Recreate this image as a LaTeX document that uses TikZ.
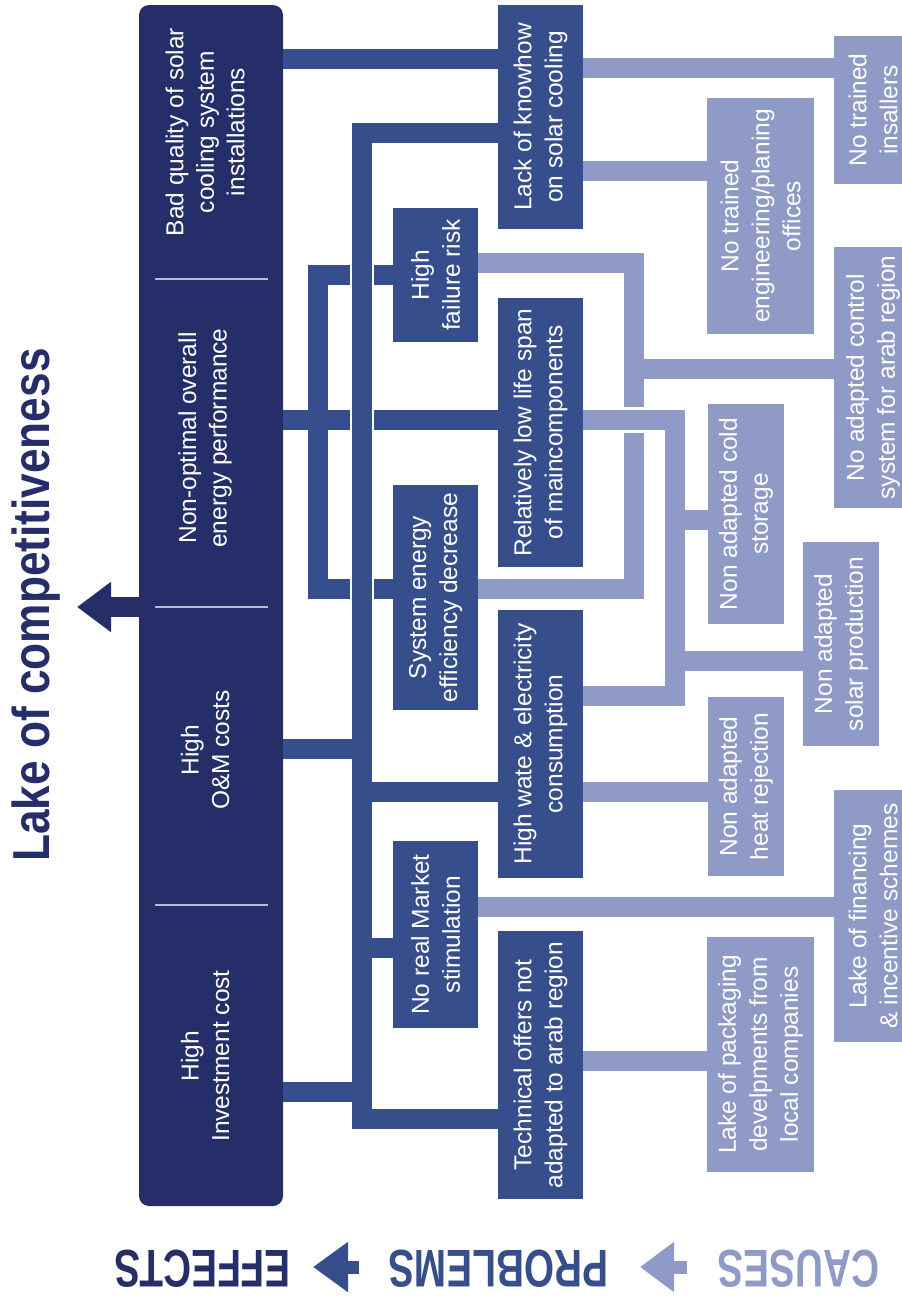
\documentclass[tikz,border=0pt]{standalone}
\usepackage{fontspec}
\setmainfont{Liberation Sans}
\newfontfamily\titlefont[FakeStretch=0.85]{Liberation Sans}
\newfontfamily\legendfont[FakeStretch=0.73]{Liberation Sans}
\usetikzlibrary{arrows.meta}

\definecolor{effblue}{HTML}{252E68}
\definecolor{probblue}{HTML}{364E8C}
\definecolor{causeblue}{HTML}{8F9BC6}
\definecolor{sepgray}{HTML}{B9BDD2}

\tikzset{
  effbox/.style={fill=effblue, rounded corners=10pt, inner sep=0},
  efftext/.style={text=white, rotate=90, align=center, inner sep=0, font=\fontsize{24.5}{30.5}\selectfont},
  probbox/.style={fill=probblue, text=white, rotate=90, align=center, inner sep=0, font=\fontsize{24.5}{31}\selectfont},
  causebox/.style={fill=causeblue, text=white, rotate=90, align=center, inner sep=0, font=\fontsize{24.5}{31}\selectfont},
  probline/.style={draw=probblue, line width=20pt},
  causeline/.style={draw=causeblue, line width=20pt},
  gapline/.style={draw=white, line width=24pt},
  legend/.style={rotate=180, anchor=base, inner sep=0, font=\fontsize{53}{53}\legendfont\bfseries},
}

\begin{document}
\begin{tikzpicture}[x=1pt, y=-1pt]
      \useasboundingbox (0,0) rectangle (902,1296);

      % effects
      \node [effbox, minimum width=144pt, minimum height=1201pt] (effects) at (211,605.5) {};
      \node [efftext] (eBad) at (205,132) {Bad quality of solar\\cooling system\\installations};
      \node [efftext] (eNon) at (205,438) {Non-optimal overall\\energy performance};
      \node [efftext] (eOM) at (205,750) {High\\O\&M costs};
      \node [efftext] (eInv) at (205,1056) {High\\Investment cost};
      \draw [sepgray, line width=1.2pt] (155,279) -- (268,279);
      \draw [sepgray, line width=1.2pt] (155,607) -- (268,607);
      \draw [sepgray, line width=1.2pt] (155,905) -- (268,905);

      \node [rotate=90, anchor=base, inner sep=0, text=effblue, font=\fontsize{52}{52}\titlefont\bfseries] (title) at (49,605) {Lake of competitiveness};
      \coordinate (arrowtip) at (77,607);
      \draw [effblue, line width=20pt, -{Triangle[length=34pt, width=48pt]}] (effects.west |- 0,607) -- (arrowtip);

      % problems
      \node [probbox, minimum width=224pt, minimum height=85pt] (lack) at (540.5,117) {Lack of knowhow\\on solar cooling};
      \node [probbox, minimum width=134pt, minimum height=85pt] (fail) at (435.5,275) {High\\failure risk};
      \node [probbox, minimum width=269pt, minimum height=85pt] (life) at (540.5,432.5) {Relatively low life span\\of maincomponents};
      \node [probbox, minimum width=225pt, minimum height=85pt] (effic) at (435.5,597.5) {System energy\\efficiency decrease};
      \node [probbox, minimum width=268pt, minimum height=85pt] (water) at (540.5,744) {High wate \& electricity\\consumption};
      \node [probbox, minimum width=187pt, minimum height=85pt] (market) at (435.5,934.5) {No real Market\\stimulation};
      \node [probbox, minimum width=268pt, minimum height=85pt] (offers) at (540.5,1065) {Technical offers not\\adapted to arab region};

      % causes
      \node [causebox, minimum width=148pt, minimum height=78pt] (installers) at (873,110) {No trained\\insallers};
      \node [causebox, minimum width=236pt, minimum height=107pt] (offices) at (760.5,216) {No trained\\engineering/planing\\offices};
      \node [causebox, minimum width=261pt, minimum height=78pt] (control) at (873,377.5) {No adapted control\\system for arab region};
      \node [causebox, minimum width=220pt, minimum height=76pt] (storage) at (746,514) {Non adapted cold\\storage};
      \node [causebox, minimum width=204pt, minimum height=76pt] (solar) at (841,644) {Non adapted\\solar production};
      \node [causebox, minimum width=179pt, minimum height=76pt] (heat) at (746,786.5) {Non adapted\\heat rejection};
      \node [causebox, minimum width=252pt, minimum height=78pt] (finance) at (873,916) {Lake of financing\\\& incentive schemes};
      \node [causebox, minimum width=235pt, minimum height=107pt] (packaging) at (760.5,1054.5) {Lake of packaging\\develpments from\\local companies};

      % effects -- problems
      \coordinate (busTop) at (362,133);
      \coordinate (busBot) at (362,1119);
      \draw [probline] (effects.east |- 0,59) -- (lack.north |- 0,59);
      \draw [probline] (lack.north |- 0,133) -- (busTop) -- (busBot) -- (offers.north |- 0,1119);
      \draw [probline] (effects.east |- 0,749) -- (busTop |- 0,749);
      \draw [probline] (busTop |- 0,792) -- (water.north |- 0,792);
      \draw [probline] (busTop |- 0,948) -- (market.north |- 0,948);
      \draw [probline] (effects.east |- 0,1092) -- (busTop |- 0,1092);

      \coordinate (brTop) at (318,275);
      \coordinate (brBot) at (318,589);
      \draw [probline] (effects.east |- 0,420) -- (life.north |- 0,420);
      \draw [probline] (fail.north |- 0,275) -- (brTop) -- (brBot) -- (effic.north |- 0,589);
      \draw [gapline] (busTop |- 0,255) -- (busTop |- 0,610);
      \draw [probline] (busTop |- 0,250) -- (busTop |- 0,615);

      % problems -- causes
      \coordinate (ctrlTop) at (634,263);
      \coordinate (ctrlBot) at (634,589);
      \coordinate (lifeTop) at (675,420);
      \coordinate (lifeBot) at (675,696);
      \draw [causeline] (lack.south |- 0,68) -- (installers.north |- 0,68);
      \draw [causeline] (lack.south |- 0,171) -- (offices.north |- 0,171);
      \draw [causeline] (fail.south |- 0,263) -- (ctrlTop) -- (ctrlBot) -- (effic.south |- 0,589);
      \draw [causeline] (ctrlTop |- 0,369) -- (control.north |- 0,369);
      \draw [gapline, line width=26pt] (614,420) -- (654,420);
      \draw [causeline] (life.south |- 0,420) -- (lifeTop) -- (lifeBot) -- (water.south |- 0,696);
      \draw [causeline] (lifeTop |- 0,520) -- (storage.north |- 0,520);
      \draw [causeline] (lifeTop |- 0,661) -- (solar.north |- 0,661);
      \draw [causeline] (water.south |- 0,792) -- (heat.north |- 0,792);
      \draw [causeline] (market.south |- 0,907) -- (finance.north |- 0,907);
      \draw [causeline] (offers.south |- 0,1061) -- (packaging.north |- 0,1061);

      % legend
      \node [legend, text=effblue] (lgEffects) at (202.5,1250) {EFFECTS};
      \node [legend, text=probblue] (lgProblems) at (498.5,1250) {PROBLEMS};
      \node [legend, text=causeblue] (lgCauses) at (798.5,1250) {CAUSES};
      \coordinate (lgArrA) at (359,1267);
      \coordinate (lgTipA) at (313,1267);
      \coordinate (lgArrB) at (687,1267);
      \coordinate (lgTipB) at (640,1267);
      \draw [probblue, line width=13pt, -{Triangle[length=35pt, width=48pt]}] (lgArrA) -- (lgTipA);
      \draw [causeblue, line width=13pt, -{Triangle[length=34pt, width=48pt]}] (lgArrB) -- (lgTipB);
\end{tikzpicture}
\end{document}
